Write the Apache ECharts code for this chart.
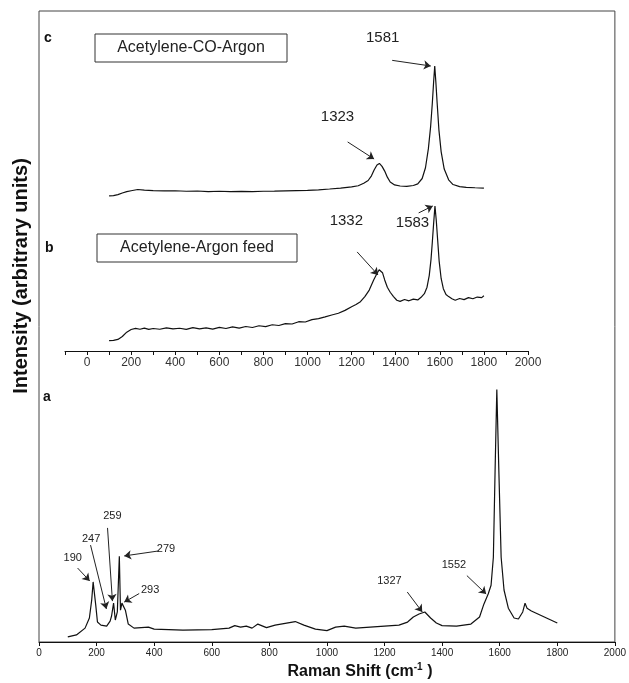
<!DOCTYPE html>
<html lang="en">

<head>
    <meta charset="UTF-8">
    <title>Raman spectra</title>
    <style>
        html, body { margin: 0; padding: 0; background: #fff; }
        #main { width: 629px; height: 683px; }
    </style>
</head>

<body>
    <div id="main"></div>
</body>
<script src="https://cdn.jsdelivr.net/npm/echarts@6/dist/echarts.min.js"></script>
<script>
    // spectrum a (bottom panel)
    const aShift = [100, 130, 160, 175, 183, 188, 192, 197, 203, 215, 235, 247, 252, 259, 265, 272, 279, 283, 288, 293, 300, 310, 330, 380, 400, 450, 500, 550, 600, 660, 680, 700, 720, 740, 760, 790, 820, 860, 890, 920, 960, 1000, 1030, 1060, 1100, 1150, 1200, 1250, 1280, 1300, 1320, 1340, 1360, 1380, 1400, 1450, 1500, 1530, 1545, 1560, 1570, 1578, 1584, 1590, 1597, 1605, 1615, 1630, 1650, 1665, 1680, 1688, 1695, 1710, 1740, 1770, 1800];
    const aIntensity = [2.0, 2.8, 5.5, 9.5, 16.6, 23.8, 24.2, 14.7, 7.9, 6.7, 6.3, 8.3, 10.3, 15.4, 8.7, 11.9, 34.0, 12.6, 15.4, 15.8, 12.6, 7.1, 5.5, 5.9, 5.1, 4.9, 4.7, 4.8, 4.9, 5.5, 6.5, 5.9, 6.3, 5.5, 7.1, 5.7, 6.7, 7.5, 8.1, 6.7, 5.1, 4.5, 5.9, 6.3, 5.5, 5.9, 6.3, 6.7, 7.9, 9.9, 11.1, 11.9, 9.5, 7.5, 6.5, 6.3, 7.1, 9.9, 15.0, 19.0, 22.5, 33.6, 68.0, 100.0, 68.0, 33.6, 20.6, 13.4, 9.5, 9.1, 11.9, 15.4, 13.4, 12.3, 10.7, 9.1, 7.5];

    // spectrum b (Acetylene-Argon feed)
    const bShift = [100, 120, 140, 160, 180, 200, 220, 240, 260, 280, 300, 330, 360, 390, 420, 450, 480, 510, 540, 570, 600, 630, 660, 690, 720, 750, 780, 810, 840, 870, 900, 930, 960, 990, 1020, 1050, 1080, 1110, 1140, 1170, 1200, 1220, 1240, 1260, 1280, 1300, 1315, 1325, 1332, 1340, 1350, 1362, 1375, 1390, 1405, 1420, 1440, 1460, 1480, 1500, 1515, 1530, 1542, 1552, 1560, 1566, 1572, 1578, 1584, 1590, 1597, 1606, 1616, 1628, 1640, 1655, 1670, 1690, 1710, 1730, 1750, 1770, 1790, 1800];
    const bIntensity = [7.1, 7.3, 8.0, 10.0, 13.0, 14.8, 15.6, 15.0, 15.8, 14.9, 15.5, 15.0, 16.0, 15.2, 15.7, 14.9, 16.1, 15.3, 15.9, 15.1, 16.3, 15.5, 16.6, 15.8, 16.9, 16.2, 17.4, 16.8, 18.1, 17.6, 18.9, 18.6, 20.2, 20.0, 21.6, 22.3, 23.5, 24.8, 26.0, 28.0, 30.5, 32.0, 34.0, 37.5, 42.0, 49.0, 53.5, 56.0, 56.6, 54.0, 49.0, 44.0, 40.5, 37.5, 35.0, 34.2, 35.5, 34.6, 35.8, 35.2, 37.0, 39.5, 44.0, 52.0, 63.0, 75.0, 88.0, 100.0, 90.0, 77.0, 62.0, 50.0, 43.0, 39.0, 37.5, 36.0, 35.0, 36.2, 35.4, 36.8, 36.0, 37.2, 36.8, 38.1];

    // spectrum c (Acetylene-CO-Argon)
    const cShift = [100, 120, 140, 160, 180, 200, 230, 260, 300, 350, 400, 450, 500, 550, 600, 650, 700, 750, 800, 850, 900, 950, 1000, 1050, 1100, 1150, 1200, 1230, 1255, 1275, 1290, 1302, 1315, 1326, 1338, 1350, 1362, 1375, 1395, 1420, 1450, 1480, 1500, 1520, 1535, 1548, 1558, 1566, 1572, 1577, 1582, 1588, 1596, 1606, 1620, 1640, 1660, 1690, 1720, 1760, 1800];
    const cIntensity = [3.0, 3.2, 4.0, 5.2, 6.2, 6.9, 7.8, 7.3, 7.0, 6.8, 6.9, 6.5, 6.7, 6.3, 6.5, 6.2, 6.4, 6.3, 6.5, 6.6, 6.8, 7.0, 7.1, 7.6, 8.2, 8.9, 9.7, 10.6, 12.5, 14.5, 18.0, 22.3, 26.0, 27.2, 25.0, 21.5, 17.0, 13.4, 11.2, 10.4, 10.2, 10.8, 12.0, 16.0, 24.0, 38.0, 54.0, 72.0, 88.0, 99.7, 88.0, 72.0, 52.0, 36.0, 23.0, 15.0, 11.5, 10.0, 9.4, 9.1, 8.9];

    // peak labels: text position, arrow start, arrow tip (data units)
    const aPeaks = [
        { name: '190', at: [117, 33.1], from: [134, 29.3], to: [176, 24.2] },
        { name: '247', at: [181, 40.8], from: [179, 38.4], to: [234, 13.1] },
        { name: '259', at: [255, 50.1], from: [238, 45.2], to: [255, 16.2] },
        { name: '279', at: [441, 36.8], from: [417, 36.1], to: [296, 34.1] },
        { name: '293', at: [386, 20.6], from: [348, 19.2], to: [296, 15.8] },
        { name: '1327', at: [1217, 24.2], from: [1279, 19.8], to: [1331, 11.9] },
        { name: '1552', at: [1441, 30.7], from: [1486, 26.3], to: [1553, 19.0] }
    ];
    const bPeaks = [
        { name: '1332', at: [1176, 89.7], from: [1225, 68.3], to: [1320, 52.4] },
        { name: '1583', at: [1476, 88.3], from: [1504, 95.2], to: [1568, 100] }
    ];
    const cPeaks = [
        { name: '1581', at: [1341, 120.5], from: [1384, 103.9], to: [1559, 99.7] },
        { name: '1323', at: [1136, 61.8], from: [1182, 43.2], to: [1302, 30.5] }
    ];

    const FONT = 'Liberation Sans, Arial, sans-serif';

    function pairs(xs, ys) {
        return xs.map((x, i) => [x, ys[i]]);
    }

    function spectrum(idx, xs, ys, peaks, labelSize) {
        return {
            type: 'line',
            xAxisIndex: idx,
            yAxisIndex: idx,
            data: pairs(xs, ys),
            showSymbol: false,
            symbol: 'none',
            lineStyle: { color: '#111', width: 1.2 },
            silent: true,
            markLine: {
                silent: true,
                symbol: ['none', 'arrow'],
                symbolSize: 7,
                label: { show: false },
                lineStyle: { color: '#222', width: 1, type: 'solid' },
                data: peaks.map(p => [{ coord: p.from }, { coord: p.to }])
            },
            markPoint: {
                silent: true,
                symbol: 'circle',
                symbolSize: 0,
                label: { show: true, formatter: '{b}', color: '#222', fontSize: labelSize, fontFamily: FONT },
                data: peaks.map(p => ({ name: p.name, coord: p.at }))
            }
        };
    }

    const chart = echarts.init(document.getElementById('main'));
    chart.setOption({
        animation: false,
        backgroundColor: '#fff',
        grid: [
            { left: 39, right: 10, top: 11, bottom: 41, show: true, borderColor: '#444', borderWidth: 1 },
            { left: 65, right: 101, top: 190, bottom: 332 },
            { left: 65, right: 101, top: 32, bottom: 483 }
        ],
        xAxis: [
            {
                gridIndex: 0, type: 'value', min: 0, max: 2000, interval: 200,
                axisLine: { lineStyle: { color: '#111' } },
                axisTick: { length: 4, lineStyle: { color: '#111' } },
                axisLabel: { fontSize: 10, color: '#222', margin: 6, fontFamily: FONT, formatter: v => String(v) },
                splitLine: { show: false }
            },
            {
                gridIndex: 1, type: 'value', min: -100, max: 2000, interval: 100,
                axisLine: { lineStyle: { color: '#111' } },
                axisTick: { length: 4, lineStyle: { color: '#111' } },
                axisLabel: {
                    fontSize: 12, color: '#333', margin: 6, fontFamily: FONT,
                    formatter: v => (v >= 0 && v % 200 === 0) ? String(v) : ''
                },
                splitLine: { show: false }
            },
            { gridIndex: 2, type: 'value', min: -100, max: 2000, show: false }
        ],
        yAxis: [
            { gridIndex: 0, type: 'value', min: 0, max: 250, show: false },
            { gridIndex: 1, type: 'value', min: 0, max: 111, show: false },
            { gridIndex: 2, type: 'value', min: 0, max: 125, show: false }
        ],
        series: [
            spectrum(0, aShift, aIntensity, aPeaks, 11),
            spectrum(1, bShift, bIntensity, bPeaks, 15),
            spectrum(2, cShift, cIntensity, cPeaks, 15)
        ],
        graphic: [
            { type: 'text', left: 44, top: 31, style: { text: 'c', font: 'bold 14px ' + FONT, fill: '#111' } },
            { type: 'rect', shape: { x: 95, y: 34, width: 192, height: 28 }, style: { fill: '#fff', stroke: '#333', lineWidth: 1 } },
            { type: 'text', x: 191, y: 48, style: { text: 'Acetylene-CO-Argon', font: '16px ' + FONT, fill: '#222', align: 'center', verticalAlign: 'middle' } },
            { type: 'text', left: 45, top: 241, style: { text: 'b', font: 'bold 14px ' + FONT, fill: '#111' } },
            { type: 'rect', shape: { x: 97, y: 234, width: 200, height: 28 }, style: { fill: '#fff', stroke: '#333', lineWidth: 1 } },
            { type: 'text', x: 197, y: 248, style: { text: 'Acetylene-Argon feed', font: '16px ' + FONT, fill: '#222', align: 'center', verticalAlign: 'middle' } },
            { type: 'text', left: 43, top: 390, style: { text: 'a', font: 'bold 14px ' + FONT, fill: '#111' } },
            {
                type: 'text', x: 21, y: 276, rotation: Math.PI / 2,
                style: { text: 'Intensity (arbitrary units)', font: 'bold 20px ' + FONT, fill: '#111', align: 'center', verticalAlign: 'middle' }
            },
            {
                type: 'text', x: 360, y: 672,
                style: {
                    text: 'Raman Shift (cm{sup|-1} )', font: 'bold 16px ' + FONT, fill: '#111', align: 'center', verticalAlign: 'middle',
                    rich: { sup: { font: 'bold 10px ' + FONT, fill: '#111', padding: [0, 0, 9, 0] } }
                }
            }
        ]
    });
</script>

</html>
